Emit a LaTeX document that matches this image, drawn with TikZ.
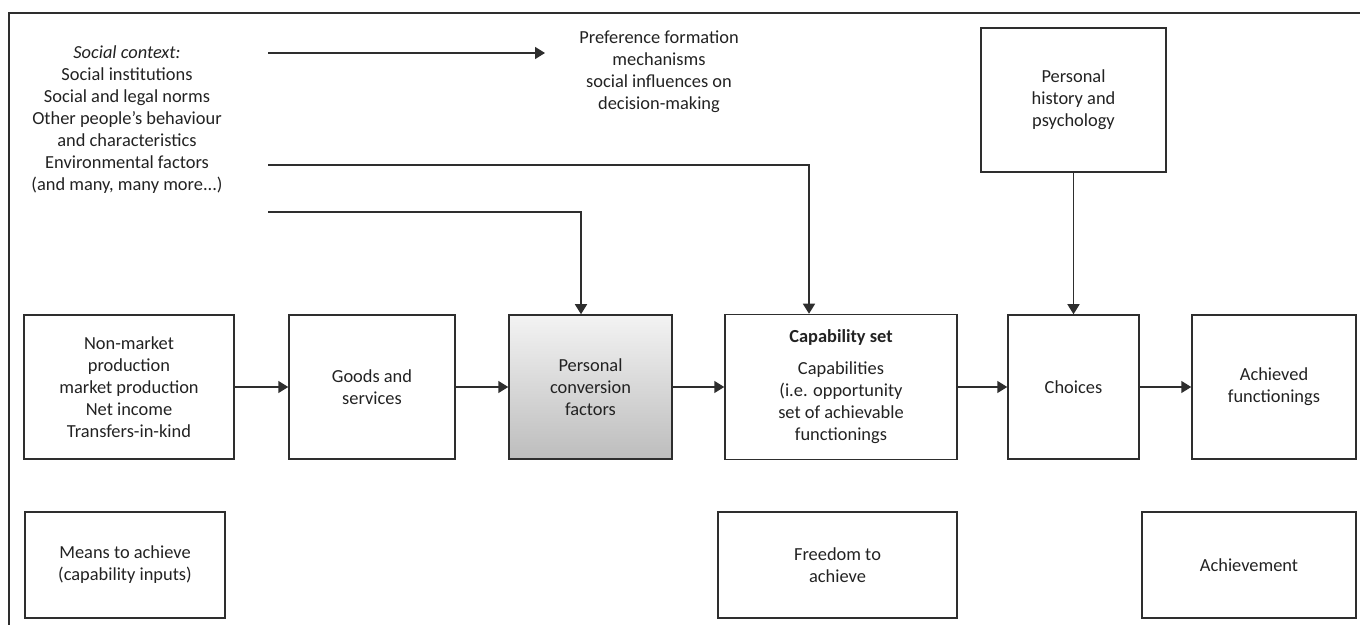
\documentclass[tikz,border=0pt]{standalone}
\usepackage{fontspec}
\setmainfont{Carlito}
\usetikzlibrary{arrows.meta}
\definecolor{edge}{HTML}{2E2E2E}
\definecolor{txt}{HTML}{222222}
\definecolor{gtop}{HTML}{F3F3F3}
\definecolor{gbot}{HTML}{BDBDBD}
\newcommand{\fs}{\fontsize{9.2}{11}\selectfont}
\tikzset{
  box/.style={draw=edge, line width=0.75pt, text=txt, align=center, inner sep=0pt, font=\fs, rectangle},
  plain/.style={text=txt, align=center, inner sep=0pt, font=\fs},
  arr/.style={draw=edge, line width=0.75pt, -{Triangle[length=5pt,width=6pt]}},
  ln/.style={draw=edge, line width=0.75pt}
}
\begin{document}
\begin{tikzpicture}[x=0.5pt,y=-0.5pt]
\useasboundingbox (0,0) rectangle (1360,625);
% frame
\draw[draw=edge, line width=0.7pt] (9,625) -- (9,13) -- (1360,13);

% text blocks
\node[plain] (social) at (127,120) {\textit{Social context:}\\Social institutions\\Social and legal norms\\Other people’s behaviour\\and characteristics\\Environmental factors\\(and many, many more...)};
\node[plain] (pref) at (659,72) {Preference formation\\mechanisms\\social influences on\\decision-making};

% boxes
\node[box, minimum width=105pt, minimum height=72pt] (src) at (129,387) {Non-market\\production\\market production\\Net income\\Transfers-in-kind};
\node[box, minimum width=83pt, minimum height=72pt] (goods) at (372,387) {Goods and\\services};
\node[box, minimum width=81.5pt, minimum height=72pt, top color=gtop, bottom color=gbot] (pcf) at (590.5,387) {Personal\\conversion\\factors};
\node[box, minimum width=116pt, minimum height=72.5pt] (cap) at (841,387) {\textbf{Capability set}\\[5pt]Capabilities\\(i.e. opportunity\\set of achievable\\functionings};
\node[box, minimum width=65.5pt, minimum height=72pt] (choices) at (1073.5,387) {Choices};
\node[box, minimum width=82pt, minimum height=72pt] (achieved) at (1274,387) {Achieved\\functionings};
\node[box, minimum width=92.5pt, minimum height=72pt] (personal) at (1073.5,100) {Personal\\history and\\psychology};
\node[box, minimum width=100pt, minimum height=53pt] (means) at (125,565) {Means to achieve\\(capability inputs)};
\node[box, minimum width=119.5pt, minimum height=53pt] (freedom) at (837.5,565) {Freedom to\\achieve};
\node[box, minimum width=107pt, minimum height=53pt] (achievement) at (1249,565) {Achievement};

% connector points
\coordinate (s1) at (268,53);
\coordinate (e1) at (545,53);
\coordinate (s2) at (268,165);
\coordinate (k2) at (809,165);
\coordinate (s3) at (268,212);
\coordinate (k3) at (581,212);

% connectors
\draw[arr] (s1) -- (e1);
\draw[arr] (s2) -- (k2) -- (k2 |- cap.north);
\draw[arr] (s3) -- (k3) -- (k3 |- pcf.north);
\draw[arr] (personal) -- (choices);
\draw[arr] (src) -- (goods);
\draw[arr] (goods) -- (pcf);
\draw[arr] (pcf) -- (cap);
\draw[arr] (cap) -- (choices);
\draw[arr] (choices) -- (achieved);
\end{tikzpicture}
\end{document}
